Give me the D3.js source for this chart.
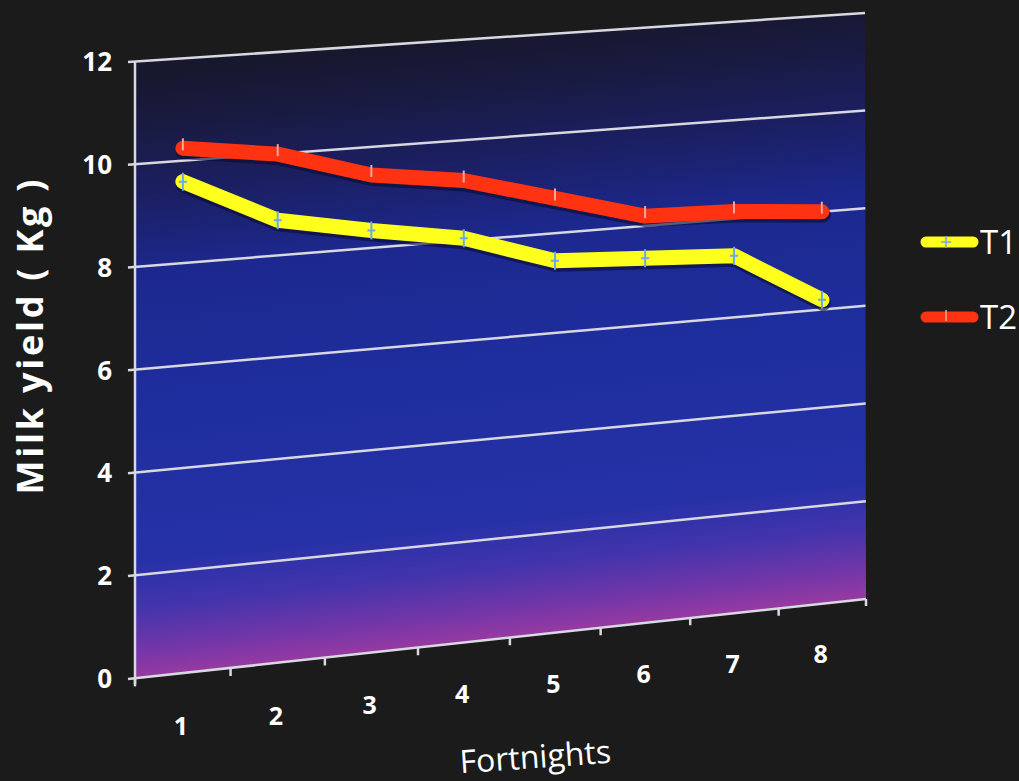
<!DOCTYPE html>
<html>
<head>
<meta charset="utf-8">
<script src="https://cdn.jsdelivr.net/npm/d3@7"></script>
<style>
  html, body { margin: 0; padding: 0; background: #1b1b1b; }
  svg { display: block; }
</style>
</head>
<body>
<div id="chart"></div>
<script>
// chart data
const categories = ["1", "2", "3", "4", "5", "6", "7", "8"];
const t1Values = [9.6, 8.7, 8.35, 8.05, 7.45, 7.35, 7.25, 6.2];
const t2Values = [10.25, 10.0, 9.45, 9.2, 8.7, 8.2, 8.15, 8.0];
const yTicks = [0, 2, 4, 6, 8, 10, 12];
const seriesNames = ["T1", "T2"];

const W = 1019, H = 781;

const svg = d3.select("#chart")
    .append("svg")
    .attr("width", W)
    .attr("height", H);

// flat plot coords (0..1) -> photographed plane (perspective)
// corners: bottom-left, bottom-right, top-right, top-left
const quad = [[135, 679], [866, 599], [865, 13], [135, 62]];
function makeProjection(q) {
    const [x0, y0] = q[0], [x1, y1] = q[1], [x2, y2] = q[2], [x3, y3] = q[3];
    const dx1 = x1 - x2, dx2 = x3 - x2, dx3 = x0 - x1 + x2 - x3;
    const dy1 = y1 - y2, dy2 = y3 - y2, dy3 = y0 - y1 + y2 - y3;
    const den = dx1 * dy2 - dx2 * dy1;
    const g = (dx3 * dy2 - dx2 * dy3) / den;
    const h = (dx1 * dy3 - dx3 * dy1) / den;
    const a = x1 - x0 + g * x1, b = x3 - x0 + h * x3, c = x0;
    const d = y1 - y0 + g * y1, e = y3 - y0 + h * y3, f = y0;
    return (u, v) => {
        const w = g * u + h * v + 1;
        return [(a * u + b * v + c) / w, (d * u + e * v + f) / w];
    };
}
const project = makeProjection(quad);

// Scales (flat space)
const x = d3.scaleBand().domain(categories).range([0, 1]);
const y = d3.scaleLinear().domain([0, 12]).range([0, 1]);

// Background plot gradient (runs across the tilted plane)
const defs = svg.append("defs");
const grad = defs.append("linearGradient")
    .attr("id", "plotBg")
    .attr("gradientUnits", "userSpaceOnUse")
    .attr("x1", 467).attr("y1", 38)
    .attr("x2", 533).attr("y2", 638);
[[0, "#17172e"], [0.08, "#191a40"], [0.2, "#1b1f62"], [0.33, "#1c288e"],
 [0.55, "#1e2e9e"], [0.8, "#2631a7"], [0.88, "#4434ac"], [0.95, "#7436a8"], [1, "#9c3aa0"]]
    .forEach(([o, c]) => grad.append("stop").attr("offset", o).attr("stop-color", c));

const corner = [[0, 0], [1, 0], [1, 1], [0, 1]].map(([u, v]) => project(u, v));
svg.append("polygon")
    .attr("points", corner.map(p => p.join(",")).join(" "))
    .attr("fill", "url(#plotBg)");

// Gridlines
const gridColor = "#d8d8e0";
svg.append("g").attr("class", "grid")
    .selectAll("line")
    .data(yTicks.filter(t => t > 0))
    .join("line")
    .attr("x1", d => project(0, y(d))[0] - 7)
    .attr("y1", d => project(0, y(d))[1])
    .attr("x2", d => project(1, y(d))[0])
    .attr("y2", d => project(1, y(d))[1])
    .attr("stroke", gridColor)
    .attr("stroke-width", 2.5);

// X axis line + ticks
const axisG = svg.append("g").attr("class", "axes");
const xb0 = project(0, 0), xb1 = project(1, 0);
axisG.append("line")
    .attr("x1", xb0[0] - 7).attr("y1", xb0[1])
    .attr("x2", xb1[0]).attr("y2", xb1[1])
    .attr("stroke", gridColor).attr("stroke-width", 2.5);

const bounds = d3.range(categories.length + 1).map(i => i * x.step());
axisG.selectAll(".xtick")
    .data(bounds)
    .join("line")
    .attr("class", "xtick")
    .attr("x1", d => project(d, 0)[0]).attr("y1", d => project(d, 0)[1])
    .attr("x2", d => project(d, -0.012)[0]).attr("y2", d => project(d, -0.012)[1])
    .attr("stroke", gridColor).attr("stroke-width", 2.5);

// Y axis line
const yl0 = project(0, -0.008), yl1 = project(0, 1);
axisG.append("line")
    .attr("x1", yl0[0]).attr("y1", yl0[1])
    .attr("x2", yl1[0]).attr("y2", yl1[1])
    .attr("stroke", gridColor).attr("stroke-width", 2.5);

// Y tick labels
const fontFam = "'Open Sans', 'DejaVu Sans', sans-serif";
svg.append("g").selectAll("text")
    .data(yTicks)
    .join("text")
    .attr("x", 112)
    .attr("y", d => project(0, y(d))[1])
    .attr("dy", "0.36em")
    .attr("text-anchor", "end")
    .attr("fill", "#ffffff")
    .style("font-family", fontFam)
    .style("font-weight", "bold")
    .style("font-size", "26px")
    .text(d => d);

// X tick labels
svg.append("g").selectAll("text")
    .data(categories)
    .join("text")
    .attr("x", d => project(x(d) + x.bandwidth() / 2, -0.1)[0] - 2)
    .attr("y", d => project(x(d) + x.bandwidth() / 2, -0.1)[1])
    .attr("text-anchor", "middle")
    .attr("fill", "#ffffff")
    .style("font-family", fontFam)
    .style("font-weight", "bold")
    .style("font-size", "25px")
    .text(d => d);

// Axis titles
svg.append("text")
    .attr("transform", "translate(43, 337) rotate(-90)")
    .attr("text-anchor", "middle")
    .attr("fill", "#ffffff")
    .attr("textLength", 315)
    .attr("lengthAdjust", "spacing")
    .style("font-family", fontFam)
    .style("font-weight", "bold")
    .style("font-size", "36px")
    .text("Milk yield ( Kg )");

svg.append("text")
    .attr("transform", "translate(536, 768) rotate(-4)")
    .attr("text-anchor", "middle")
    .attr("fill", "#ffffff")
    .style("font-family", fontFam)
    .style("font-size", "32px")
    .text("Fortnights");

// Lines
const series = [
    { name: seriesNames[0], values: t1Values, color: "#ffff1e", mark: "#6fa8e8" },
    { name: seriesNames[1], values: t2Values, color: "#ff3312", mark: "#f2a6a0" }
];

const lineGen = d3.line()
    .x(d => d[0])
    .y(d => d[1]);

const pts = s => s.values.map((v, i) => project(x(categories[i]) + x.bandwidth() / 2, y(v)));

const linesG = svg.append("g").attr("class", "lines");
series.forEach(s => {
    const p = pts(s);
    linesG.append("path")
        .attr("d", lineGen(p.map(([a, b]) => [a + 1, b + 3])))
        .attr("fill", "none")
        .attr("stroke", "#0a0c30")
        .attr("stroke-opacity", 0.6)
        .attr("stroke-width", 16)
        .attr("stroke-linejoin", "round")
        .attr("stroke-linecap", "round");
    linesG.append("path")
        .attr("d", lineGen(p))
        .attr("fill", "none")
        .attr("stroke", s.color)
        .attr("stroke-width", 15)
        .attr("stroke-linejoin", "round")
        .attr("stroke-linecap", "round");
    // markers
    linesG.selectAll(null)
        .data(p)
        .join("path")
        .attr("d", ([a, b]) => s.name === "T1"
            ? `M${a},${b - 9}V${b + 9}M${a - 4},${b}H${a + 4}`
            : `M${a},${b - 10}V${b + 2}`)
        .attr("stroke", s.mark)
        .attr("stroke-width", 2)
        .attr("fill", "none");
});

// Legend
const legend = svg.append("g").attr("class", "legend");
series.forEach((s, i) => {
    const ly = 242 + i * 75;
    legend.append("line")
        .attr("x1", 926).attr("y1", ly)
        .attr("x2", 973).attr("y2", ly)
        .attr("stroke", s.color)
        .attr("stroke-width", 11)
        .attr("stroke-linecap", "round");
    legend.append("path")
        .attr("d", s.name === "T1"
            ? `M946,${ly - 6}V${ly + 6}M941,${ly}H951`
            : `M946,${ly - 7}V${ly + 4}`)
        .attr("stroke", s.mark)
        .attr("stroke-width", 1.5);
    legend.append("text")
        .attr("x", 980)
        .attr("y", ly + 12)
        .attr("fill", "#ffffff")
        .style("font-family", fontFam)
        .style("font-size", "33px")
        .text(s.name);
});
</script>
</body>
</html>
